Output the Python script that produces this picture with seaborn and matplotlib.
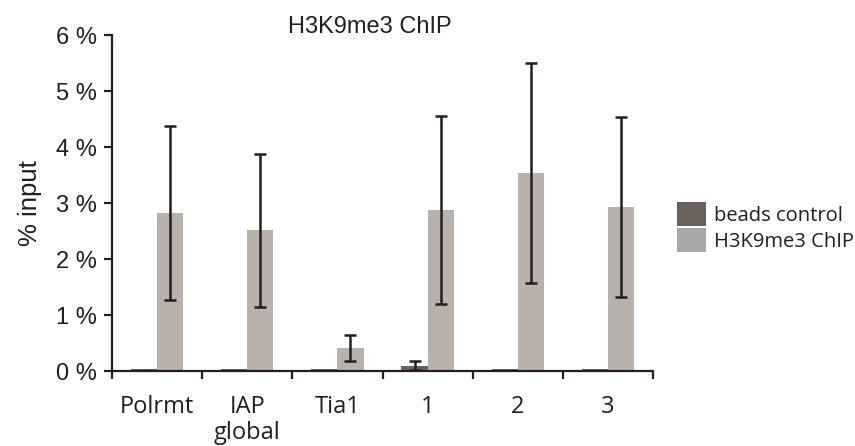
import numpy as np
import pandas as pd
import matplotlib
matplotlib.use("Agg")
import matplotlib.pyplot as plt
import seaborn as sns
from matplotlib.patches import Patch

categories = ["Polrmt", "IAP\nglobal", "Tia1", "1", "2", "3"]
series = ["beads control", "H3K9me3 ChIP"]
beads_vals = [0.03, 0.03, 0.03, 0.095, 0.03, 0.03]
beads_err = [0.0, 0.0, 0.0, 0.075, 0.0, 0.0]
chip_vals = [2.82, 2.51, 0.41, 2.875, 3.54, 2.93]
chip_err = [1.56, 1.36, 0.24, 1.68, 1.96, 1.60]
yticks = [0, 1, 2, 3, 4, 5, 6]
ytick_labels = ["0 %", "1 %", "2 %", "3 %", "4 %", "5 %", "6 %"]

bar_colors = ["#6b625e", "#b9b1ab"]
legend_colors = ["#6b625e", "#a9a9a9"]
ink = "#231f20"

df = pd.DataFrame({
    "category": categories * 2,
    "series": [series[0]] * len(categories) + [series[1]] * len(categories),
    "value": beads_vals + chip_vals,
    "err": beads_err + chip_err,
})

sns.set_style("white")
plt.rcParams["font.family"] = ["Liberation Sans", "DejaVu Sans"]
plt.rcParams["text.color"] = ink

fig = plt.figure(figsize=(8.55, 4.46), dpi=100)
ax = fig.add_axes([112 / 855, 1 - 371 / 446, (653 - 112) / 855, (371 - 35) / 446])

sns.barplot(data=df, x="category", y="value", hue="series", order=categories,
            hue_order=series, palette=bar_colors, errorbar=None, width=0.58,
            gap=0, ax=ax, legend=False, linewidth=0, saturation=1)

bars = list(ax.patches)[: 2 * len(categories)]
for i, p in enumerate(bars):
    s = i // len(categories)
    c = i % len(categories)
    err = (beads_err if s == 0 else chip_err)[c]
    if err <= 0:
        continue
    xc = p.get_x() + p.get_width() / 2
    ax.errorbar(xc, p.get_height(), yerr=err, fmt="none", ecolor=ink,
                elinewidth=1.8, capsize=4, capthick=1.8, zorder=5)

ax.set_xlim(-0.5, len(categories) - 0.5)
ax.set_ylim(0, 6)
ax.set_yticks(yticks)
ax.set_yticklabels(ytick_labels, fontsize=17, color=ink)
ax.set_xticks(range(len(categories)))
ax.set_xticklabels(categories, fontsize=17, family=["Open Sans", "DejaVu Sans"],
                   linespacing=1.15, color=ink)
ax.set_xticks(np.arange(-0.5, len(categories), 1.0), minor=True)
ax.tick_params(axis="x", which="major", length=0, pad=17, bottom=True)
ax.tick_params(axis="x", which="minor", length=6, width=1.6, direction="out",
               color=ink, bottom=True)
ax.tick_params(axis="y", length=6, width=1.6, direction="out", color=ink, pad=5, left=True)
ax.set_xlabel("")
ax.set_ylabel("% input", fontsize=18.5, labelpad=10, color=ink)

sns.despine(ax=ax)
for side in ["left", "bottom"]:
    ax.spines[side].set_linewidth(1.6)
    ax.spines[side].set_color(ink)

fig.text(370 / 855, 1 - 27 / 446, "H3K9me3 ChIP", ha="center", va="center", fontsize=17)

handles = [Patch(facecolor=legend_colors[0], edgecolor="none"),
           Patch(facecolor=legend_colors[1], edgecolor="none")]
fig.legend(handles, series, loc="upper left", bbox_to_anchor=(677 / 855, 1 - 202 / 446),
           frameon=False, prop={"family": ["Open Sans", "DejaVu Sans"], "size": 14.5},
           handlelength=1.45, handleheight=1.45, handletextpad=0.4, labelspacing=0.1,
           borderpad=0, borderaxespad=0)

fig.savefig("out.png", dpi=100)
